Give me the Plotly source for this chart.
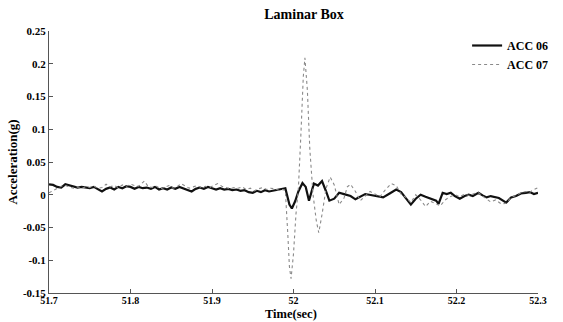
import plotly.graph_objects as go

# ACC 06 (black)
t06 = [51.700, 51.705, 51.710, 51.715, 51.720, 51.725, 51.730, 51.735, 51.740, 51.745,
       51.750, 51.755, 51.760, 51.765, 51.770, 51.775, 51.780, 51.785, 51.790, 51.795,
       51.800, 51.805, 51.810, 51.815, 51.820, 51.825, 51.830, 51.835, 51.840, 51.845,
       51.850, 51.855, 51.860, 51.865, 51.870, 51.875, 51.880, 51.885, 51.890, 51.895,
       51.900, 51.905, 51.910, 51.915, 51.920, 51.925, 51.930, 51.935, 51.940, 51.945,
       51.950, 51.955, 51.960, 51.965, 51.970, 51.975, 51.980, 51.985, 51.990, 51.995,
       51.998, 52.002, 52.006, 52.011, 52.015, 52.019, 52.022, 52.025, 52.030, 52.035,
       52.040, 52.044, 52.050, 52.056, 52.062, 52.070, 52.076, 52.082, 52.088, 52.093,
       52.098, 52.104, 52.110, 52.118, 52.126, 52.132, 52.138, 52.144, 52.150, 52.156,
       52.162, 52.168, 52.175, 52.178, 52.183, 52.188, 52.193, 52.198, 52.204, 52.210,
       52.215, 52.220, 52.227, 52.232, 52.237, 52.242, 52.246, 52.252, 52.261, 52.267,
       52.273, 52.279, 52.285, 52.290, 52.295, 52.300]
acc06 = [0.016, 0.015, 0.012, 0.011, 0.016, 0.014, 0.012, 0.011, 0.012, 0.011,
         0.010, 0.012, 0.008, 0.005, 0.009, 0.011, 0.008, 0.012, 0.010, 0.013,
         0.012, 0.009, 0.012, 0.010, 0.011, 0.009, 0.012, 0.008, 0.010, 0.008,
         0.011, 0.009, 0.012, 0.010, 0.007, 0.005, 0.009, 0.011, 0.009, 0.012,
         0.010, 0.008, 0.010, 0.008, 0.009, 0.007, 0.008, 0.006, 0.007, 0.004,
         0.003, 0.006, 0.004, 0.007, 0.005, 0.006, 0.007, 0.008, 0.010, -0.015,
         -0.021, -0.010, 0.005, 0.018, 0.012, -0.009, 0.005, 0.017, 0.014, 0.021,
         0.005, -0.009, -0.006, 0.003, 0.001, -0.002, -0.007, -0.003, 0.001, 0.000,
         -0.001, -0.002, -0.004, 0.002, 0.008, 0.004, -0.006, -0.015, -0.006, 0.000,
         -0.003, -0.006, -0.009, -0.014, 0.003, 0.001, 0.003, -0.002, -0.006, -0.002,
         0.000, -0.002, 0.003, -0.001, -0.004, -0.002, -0.003, -0.005, -0.012, -0.004,
         -0.002, 0.002, 0.003, 0.004, 0.001, 0.003]

# ACC 07 (grey)
t07 = [51.700, 51.705, 51.710, 51.715, 51.720, 51.725, 51.730, 51.735, 51.740, 51.745,
       51.750, 51.755, 51.760, 51.765, 51.770, 51.775, 51.780, 51.785, 51.790, 51.795,
       51.800, 51.805, 51.810, 51.817, 51.822, 51.827, 51.832, 51.837, 51.842, 51.847,
       51.852, 51.857, 51.862, 51.867, 51.872, 51.877, 51.882, 51.887, 51.892, 51.897,
       51.902, 51.907, 51.912, 51.917, 51.922, 51.927, 51.932, 51.937, 51.942, 51.947,
       51.952, 51.957, 51.962, 51.967, 51.972, 51.977, 51.982, 51.987, 51.990, 51.993,
       51.995, 51.997, 52.000, 52.003, 52.006, 52.009, 52.012, 52.014, 52.017, 52.020,
       52.024, 52.028, 52.031, 52.035, 52.040, 52.045, 52.050, 52.056, 52.062, 52.066,
       52.070, 52.076, 52.082, 52.088, 52.094, 52.100, 52.106, 52.113, 52.120, 52.126,
       52.132, 52.138, 52.144, 52.150, 52.156, 52.162, 52.168, 52.175, 52.180, 52.186,
       52.192, 52.198, 52.204, 52.210, 52.215, 52.222, 52.227, 52.232, 52.237, 52.242,
       52.248, 52.255, 52.261, 52.267, 52.273, 52.279, 52.285, 52.290, 52.295, 52.300]
acc07 = [0.003, 0.006, 0.010, 0.013, 0.014, 0.012, 0.010, 0.012, 0.010, 0.012,
         0.011, 0.013, 0.010, 0.011, 0.016, 0.012, 0.014, 0.011, 0.015, 0.013,
         0.016, 0.014, 0.013, 0.021, 0.012, 0.011, 0.013, 0.009, 0.012, 0.014,
         0.010, 0.012, 0.017, 0.013, 0.010, 0.012, 0.014, 0.011, 0.013, 0.011,
         0.014, 0.017, 0.013, 0.011, 0.009, 0.011, 0.010, 0.012, 0.008, 0.010,
         0.006, 0.009, 0.011, 0.008, 0.010, 0.009, 0.007, 0.008, 0.006, -0.060,
         -0.110, -0.128, -0.090, -0.030, 0.010, 0.090, 0.180, 0.209, 0.160, 0.070,
         0.000, -0.040, -0.058, -0.030, 0.010, 0.027, 0.015, -0.015, -0.005, 0.012,
         0.016, 0.005, -0.009, -0.002, 0.005, 0.001, -0.003, 0.008, 0.017, 0.014,
         0.001, -0.004, -0.012, 0.000, -0.008, -0.018, -0.010, -0.014, -0.017, -0.008,
         -0.003, 0.000, -0.003, 0.001, -0.001, 0.002, 0.003, -0.002, -0.006, -0.011,
         -0.008, -0.014, -0.013, -0.004, -0.001, 0.003, 0.005, 0.004, 0.008, 0.011]

x_ticks = [51.7, 51.8, 51.9, 52.0, 52.1, 52.2, 52.3]
x_tick_labels = ["51.7", "51.8", "51.9", "52", "52.1", "52.2", "52.3"]
y_ticks = [0.25, 0.2, 0.15, 0.1, 0.05, 0, -0.05, -0.1, -0.15]
y_tick_labels = ["0.25", "0.2", "0.15", "0.1", "0.05", "0", "-0.05", "-0.1", "-0.15"]

FONT = "Liberation Serif"

fig = go.Figure()
fig.add_trace(go.Scatter(x=t06, y=acc06, mode="lines", name="ACC 06",
                         line=dict(color="#111111", width=2.2)))
fig.add_trace(go.Scatter(x=t07, y=acc07, mode="lines", name="ACC 07",
                         line=dict(color="#8a8a8a", width=1.1, dash="dot")))

fig.update_layout(
    width=563, height=322,
    margin=dict(l=49, r=10, t=31, b=29),
    paper_bgcolor="white", plot_bgcolor="white",
    font=dict(family=FONT, color="black"),
    title=dict(text="Laminar Box", x=0.54, xanchor="center", y=0.955,
               yanchor="middle", font=dict(size=14, family=FONT, weight="bold")),
    showlegend=True,
    legend=dict(x=0.855, y=1.0, xanchor="left", yanchor="top",
                bgcolor="rgba(0,0,0,0)",
                font=dict(size=12, family=FONT, weight="bold"),
                itemwidth=30, tracegroupgap=0),
    annotations=[dict(text="Time(sec)", xref="paper", yref="paper",
                      x=0.495, y=-0.112, xanchor="center", yanchor="bottom",
                      showarrow=False, borderpad=0,
                      font=dict(size=12.5, family=FONT, weight="bold"))],
)
fig.update_xaxes(range=[51.7, 52.3], tickvals=x_ticks, ticktext=x_tick_labels,
                 automargin=False, ticklabelstandoff=-2,
                 showgrid=False, zeroline=False, showline=True, linecolor="#555",
                 linewidth=1, ticks="inside", ticklen=4, tickcolor="#555",
                 tickfont=dict(size=10, family=FONT, weight="bold"))
fig.update_yaxes(range=[-0.15, 0.25], tickvals=y_ticks, ticktext=y_tick_labels,
                 automargin=False,
                 showgrid=False, zeroline=False, showline=True, linecolor="#555",
                 linewidth=1, ticks="inside", ticklen=4, tickcolor="#555",
                 tickfont=dict(size=11, family=FONT, weight="bold"),
                 title=dict(text="Acceleration(g)",
                            font=dict(size=13, family=FONT, weight="bold"),
                            standoff=2))

fig.write_html("out.html", config={"displayModeBar": False},
               post_script="document.body.style.margin='0';document.body.style.padding='0';")
